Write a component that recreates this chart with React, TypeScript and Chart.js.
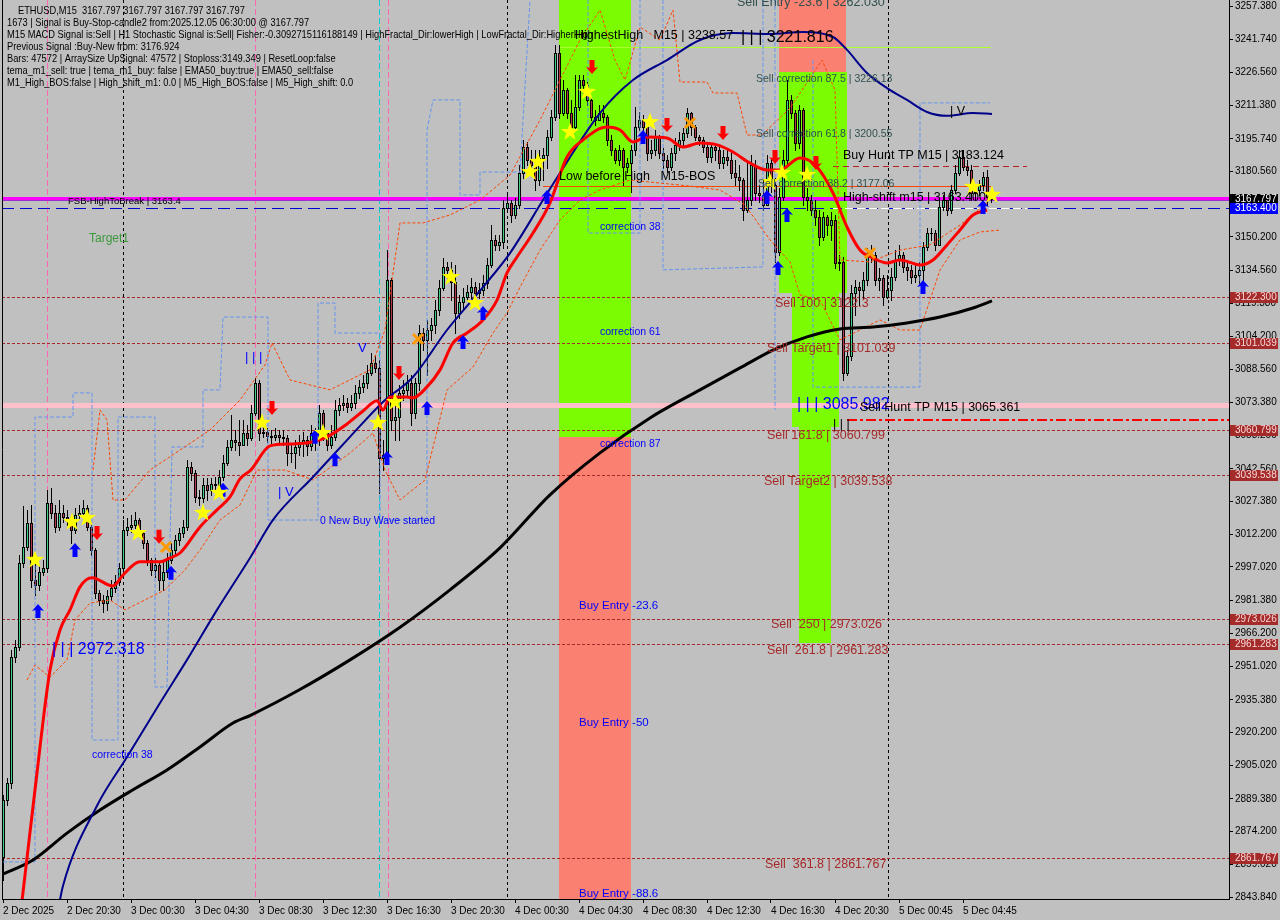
import React, { useEffect, useRef } from 'react';
import { Chart, registerables } from 'chart.js';
Chart.register(...registerables);

const W = 1280;
const H = 920;
const FONT = '"Liberation Sans", Arial, sans-serif';

// ---------- axis ticks ----------
const xTickIdx = [0, 16, 32, 48, 64, 80, 96, 112, 128, 144, 160, 176, 192, 208, 224, 240];
const xTickLabels = ['2 Dec 2025', '2 Dec 20:30', '3 Dec 00:30', '3 Dec 04:30', '3 Dec 08:30', '3 Dec 12:30', '3 Dec 16:30', '3 Dec 20:30', '4 Dec 00:30', '4 Dec 04:30', '4 Dec 08:30', '4 Dec 12:30', '4 Dec 16:30', '4 Dec 20:30', '5 Dec 00:45', '5 Dec 04:45'];
const yTicks = [3257.38, 3241.74, 3226.56, 3211.38, 3195.74, 3180.56, 3165.38, 3150.2, 3134.56, 3119.38, 3104.2, 3088.56, 3073.38, 3058.2, 3042.56, 3027.38, 3012.2, 2997.02, 2981.38, 2966.2, 2951.02, 2935.38, 2920.2, 2905.02, 2889.38, 2874.2, 2859.02, 2843.84];
const X_MIN = -0.25;
const X_MAX = 306.5;
const Y_MIN = 2842.912;
const Y_MAX = 3260.165;

// ---------- candles (M15), open = previous close ----------
const firstOpen = 2862.4;
const closes = [
  2888.9, 2896.8, 2955.3, 2959.9, 2998.9, 3006.4, 3017.4, 2991.0, 2988.7, 2994.8,
  2996.6, 3026.8, 3022.1, 3015.6, 3022.1, 3020.3, 3018.9, 3014.2, 3021.2, 3022.1,
  3024.4, 3015.6, 3004.9, 2985.0, 2981.7, 2980.3, 2983.6, 2987.3, 2990.1, 2996.6,
  3014.2, 3015.6, 3016.5, 3018.9, 3012.8, 3008.2, 3000.3, 2995.7, 2998.0, 2991.0,
  2994.8, 3000.3, 3004.9, 3009.6, 3012.8, 3015.6, 3043.4, 3040.7, 3029.5, 3029.1,
  3035.1, 3032.8, 3035.6, 3035.1, 3038.8, 3045.3, 3052.7, 3056.0, 3055.0, 3053.7,
  3059.2, 3056.9, 3068.5, 3082.4, 3059.2, 3059.7, 3057.8, 3057.4, 3058.3, 3057.4,
  3056.9, 3049.9, 3049.9, 3052.7, 3055.0, 3056.0, 3053.2, 3059.2, 3056.0, 3068.5,
  3059.2, 3053.7, 3057.4, 3069.9, 3072.2, 3073.1, 3071.3, 3073.1, 3077.8, 3080.6,
  3082.4, 3087.1, 3091.7, 3089.4, 3047.6, 3049.0, 3130.2, 3065.3, 3066.6, 3077.8,
  3079.2, 3082.4, 3068.5, 3082.4, 3105.6, 3102.4, 3107.0, 3109.3, 3116.3, 3126.5,
  3136.3, 3134.9, 3129.3, 3114.9, 3120.0, 3122.3, 3124.6, 3126.9, 3124.2, 3125.6,
  3128.8, 3137.2, 3148.8, 3146.5, 3147.9, 3163.6, 3166.0, 3160.4, 3165.0, 3179.9,
  3191.9, 3185.9, 3183.6, 3176.6, 3186.8, 3188.2, 3196.6, 3205.9, 3235.6, 3207.7,
  3218.4, 3207.7, 3201.2, 3210.5, 3223.0, 3220.7, 3213.8, 3205.9, 3204.5, 3207.7,
  3205.9, 3195.2, 3190.5, 3185.9, 3190.5, 3182.7, 3184.5, 3190.5, 3201.2, 3204.5,
  3201.2, 3189.2, 3190.5, 3196.6, 3189.2, 3185.9, 3182.7, 3189.2, 3192.9, 3195.2,
  3198.4, 3207.7, 3201.2, 3196.6, 3195.2, 3191.9, 3187.3, 3191.9, 3190.5, 3184.5,
  3187.3, 3185.9, 3179.9, 3178.0, 3176.6, 3162.7, 3167.3, 3183.6, 3170.6, 3169.7,
  3165.0, 3184.5, 3174.3, 3143.2, 3168.7, 3185.9, 3213.8, 3207.7, 3193.8, 3209.1,
  3168.7, 3167.3, 3162.7, 3159.4, 3150.2, 3159.4, 3155.7, 3158.1, 3138.1, 3138.6,
  3087.1, 3094.9, 3124.2, 3126.9, 3125.6, 3130.2, 3140.9, 3141.8, 3130.2, 3131.1,
  3122.3, 3125.6, 3131.6, 3139.5, 3141.8, 3136.3, 3134.9, 3131.6, 3132.5, 3134.9,
  3145.5, 3152.0, 3152.0, 3146.5, 3164.1, 3167.3, 3162.7, 3172.0, 3179.9, 3187.3,
  3182.7, 3181.3, 3170.6, 3172.0, 3174.3, 3178.0, 3168.7, 3167.797,
];
const highs = [
  2891.2, 2899.1, 2958.5, 2963.2, 3002.6, 3025.3, 3023.5, 3025.8, 3000.3, 2998.0,
  3000.3, 3032.8, 3033.7, 3025.8, 3028.1, 3025.8, 3023.5, 3021.2, 3024.4, 3025.8,
  3028.1, 3025.8, 3016.5, 3005.9, 2986.4, 2984.1, 2986.4, 2991.0, 2993.3, 2998.9,
  3018.9, 3019.8, 3021.2, 3022.6, 3019.8, 3014.2, 3009.6, 3001.2, 3001.2, 2999.4,
  3000.3, 3003.5, 3008.2, 3011.9, 3015.1, 3018.9, 3046.7, 3045.8, 3042.1, 3032.8,
  3038.4, 3038.4, 3038.4, 3038.8, 3042.1, 3049.0, 3056.0, 3067.6, 3060.6, 3065.3,
  3065.3, 3062.9, 3072.2, 3084.7, 3083.8, 3062.9, 3061.5, 3060.6, 3061.5, 3060.6,
  3060.6, 3058.3, 3053.7, 3056.0, 3058.3, 3059.7, 3057.8, 3062.9, 3061.5, 3072.2,
  3069.9, 3060.6, 3062.9, 3074.5, 3075.5, 3076.9, 3075.5, 3076.9, 3081.5, 3083.8,
  3086.1, 3090.8, 3096.3, 3095.4, 3093.1, 3056.0, 3144.1, 3131.1, 3074.5, 3081.5,
  3083.8, 3086.1, 3086.1, 3084.7, 3109.3, 3108.0, 3111.7, 3112.6, 3120.9, 3130.2,
  3140.4, 3138.6, 3138.6, 3137.2, 3123.3, 3126.5, 3127.9, 3131.1, 3129.3, 3128.8,
  3132.5, 3140.4, 3155.7, 3151.1, 3151.1, 3167.3, 3169.7, 3167.3, 3168.3, 3183.6,
  3195.2, 3194.3, 3190.5, 3190.5, 3190.5, 3191.5, 3199.8, 3209.1, 3239.3, 3239.3,
  3223.0, 3219.3, 3213.8, 3225.4, 3225.4, 3225.4, 3222.1, 3214.7, 3209.1, 3211.4,
  3211.4, 3206.8, 3197.5, 3191.5, 3192.9, 3191.5, 3186.8, 3192.9, 3210.5, 3208.2,
  3206.8, 3202.2, 3195.2, 3199.8, 3197.5, 3191.5, 3188.2, 3191.5, 3196.1, 3198.9,
  3200.8, 3210.0, 3208.2, 3202.2, 3197.5, 3196.6, 3193.8, 3193.8, 3193.8, 3191.9,
  3190.5, 3190.5, 3190.5, 3185.9, 3183.6, 3177.6, 3185.9, 3188.2, 3185.9, 3174.3,
  3176.6, 3188.2, 3186.8, 3177.6, 3172.9, 3190.5, 3223.0, 3216.1, 3209.1, 3211.4,
  3210.0, 3172.9, 3169.7, 3167.3, 3162.7, 3161.8, 3160.4, 3161.8, 3160.4, 3141.8,
  3140.9, 3097.7, 3127.9, 3130.2, 3129.3, 3133.9, 3145.1, 3146.5, 3143.2, 3135.8,
  3132.5, 3132.5, 3135.8, 3144.1, 3146.5, 3143.2, 3139.5, 3137.2, 3137.2, 3138.6,
  3147.9, 3154.3, 3154.3, 3153.4, 3167.3, 3169.7, 3167.3, 3174.3, 3183.6, 3190.5,
  3190.5, 3185.9, 3183.6, 3174.3, 3176.6, 3180.3, 3181.3, 3170.0,
];
const lows = [
  2851.8, 2886.6, 2894.5, 2953.0, 2958.5, 2997.1, 3004.9, 2987.8, 2984.1, 2986.4,
  2993.3, 2994.8, 3019.8, 3013.3, 3014.2, 3017.9, 3016.5, 3008.2, 3012.8, 3019.8,
  3021.2, 3014.2, 3002.6, 2982.7, 2979.4, 2976.2, 2977.1, 2981.7, 2985.5, 2988.7,
  2995.7, 3011.9, 3013.3, 3015.1, 3011.0, 3005.9, 2998.0, 2993.3, 2992.4, 2986.4,
  2986.4, 2992.4, 2998.9, 3002.6, 3007.3, 3011.0, 3014.2, 3037.4, 3027.2, 3025.8,
  3027.2, 3028.1, 3030.5, 3031.9, 3032.8, 3037.4, 3044.4, 3051.3, 3051.3, 3049.0,
  3054.6, 3053.7, 3056.0, 3067.6, 3056.0, 3057.4, 3055.0, 3054.6, 3056.0, 3055.0,
  3053.7, 3044.4, 3045.8, 3042.9, 3049.0, 3048.6, 3049.0, 3051.3, 3051.3, 3053.7,
  3056.0, 3051.3, 3052.3, 3056.0, 3067.6, 3069.9, 3069.0, 3069.9, 3070.8, 3075.5,
  3078.3, 3080.1, 3086.1, 3087.5, 3031.4, 3042.1, 3045.8, 3060.6, 3056.0, 3056.0,
  3074.5, 3076.9, 3062.9, 3066.2, 3079.2, 3097.7, 3086.1, 3102.4, 3105.6, 3114.0,
  3125.6, 3131.1, 3120.9, 3105.6, 3112.6, 3117.2, 3120.9, 3121.9, 3120.9, 3121.9,
  3123.3, 3126.5, 3136.3, 3144.1, 3144.1, 3145.1, 3161.8, 3157.1, 3159.0, 3163.6,
  3177.6, 3183.6, 3180.3, 3172.0, 3174.3, 3176.6, 3182.2, 3195.2, 3204.5, 3205.4,
  3206.8, 3205.4, 3198.9, 3200.8, 3209.1, 3215.2, 3211.4, 3204.5, 3202.2, 3205.4,
  3203.5, 3192.9, 3188.2, 3184.5, 3183.6, 3174.3, 3180.3, 3171.1, 3188.2, 3199.8,
  3198.4, 3185.9, 3186.8, 3188.2, 3186.8, 3182.2, 3180.3, 3181.3, 3185.9, 3190.5,
  3192.9, 3196.6, 3197.5, 3195.2, 3192.9, 3189.6, 3185.0, 3185.0, 3185.9, 3182.2,
  3182.2, 3183.6, 3177.6, 3174.3, 3172.0, 3158.1, 3161.8, 3165.0, 3167.3, 3166.4,
  3162.7, 3165.0, 3171.1, 3138.6, 3141.8, 3167.3, 3183.6, 3205.4, 3190.5, 3191.5,
  3165.0, 3162.7, 3160.4, 3155.7, 3146.5, 3148.8, 3151.1, 3148.8, 3135.8, 3134.9,
  3083.8, 3086.1, 3093.1, 3114.0, 3118.6, 3121.9, 3127.9, 3138.6, 3127.9, 3125.6,
  3118.6, 3121.9, 3120.9, 3130.2, 3137.2, 3133.9, 3130.2, 3128.8, 3129.3, 3127.9,
  3130.2, 3144.1, 3148.8, 3144.1, 3146.5, 3162.7, 3160.4, 3161.3, 3170.6, 3178.9,
  3181.3, 3178.9, 3167.3, 3167.3, 3169.7, 3172.0, 3165.0, 3166.4,
];

// ---------- moving averages (bar index / price) ----------
const redMaIdx = [4.5, 8, 11.75, 14.25, 16.75, 19.25, 22.25, 27.5, 30, 34.25, 39.25, 41.75, 44.25, 49.25, 53.5, 56.75, 59.25, 62, 66.75, 71.75, 77.25, 81, 86, 90, 93.5, 95, 96.75, 101, 102.5, 106, 109.25, 112.5, 116, 120, 123.5, 126, 128.5, 132.5, 136.75, 141, 145, 151, 154.25, 157.5, 161, 166, 170, 174.25, 178.5, 182.5, 186.75, 191, 194.25, 199.25, 203.5, 207.5, 211, 214.25, 217.5, 221, 224.25, 229.25, 232.5, 236, 239.25, 242.5, 246];
const redMaVal = [2838, 2893.6, 2949.2, 2967.8, 2977.1, 2987.8, 2992.0, 2988.2, 2993.3, 2999.4, 2999.4, 3001.2, 3003.5, 3015.6, 3023.5, 3029.5, 3037.9, 3042.1, 3053.2, 3054.1, 3055.0, 3057.4, 3063.4, 3069.4, 3074.2, 3069.9, 3075.9, 3075.9, 3075.5, 3080.6, 3088.5, 3101.0, 3105.6, 3111.7, 3120.9, 3133.5, 3140.9, 3152.0, 3166.0, 3187.3, 3195.2, 3201.2, 3199.8, 3194.3, 3196.6, 3196.1, 3191.9, 3193.8, 3192.9, 3189.6, 3184.5, 3181.3, 3181.3, 3186.8, 3182.7, 3170.6, 3154.8, 3144.1, 3140.4, 3138.1, 3139.5, 3137.2, 3139.5, 3146.5, 3153.4, 3160.4, 3162.7];
const navyMaIdx = [14, 15, 23.5, 31, 39.25, 46, 53.5, 61.75, 67.5, 77.5, 86.75, 95, 102.5, 111, 120, 126.75, 135, 139.25, 149.25, 157.5, 166, 174.25, 182.5, 191.5, 200, 207.5, 211, 216, 221, 226, 231, 236, 242.5, 247.25];
const navyMaVal = [2840.2, 2849.1, 2886.2, 2908.8, 2933.9, 2953.9, 2977.1, 3001.2, 3018.9, 3038.8, 3057.4, 3073.6, 3085.2, 3107.0, 3126.9, 3142.7, 3167.3, 3179.9, 3207.7, 3223.0, 3232.3, 3241.6, 3244.8, 3244.4, 3245.3, 3243.0, 3237.0, 3226.3, 3219.3, 3213.8, 3208.2, 3206.4, 3207.7, 3207.3];
const blackMaIdx = [-0.5, 7.5, 16, 24.25, 32.5, 41, 49.25, 57.5, 62, 74, 86.75, 99, 111.75, 124.25, 136.75, 149.25, 161.75, 174.25, 184.25, 192.5, 201, 209.25, 217.5, 226, 234.25, 242.5, 247.25];
const blackMaVal = [2854.1, 2861.0, 2873.5, 2884.2, 2893.6, 2902.8, 2913.5, 2924.6, 2928.3, 2939.9, 2953.9, 2968.7, 2986.4, 3005.9, 3030.5, 3050.0, 3066.2, 3079.2, 3089.4, 3097.7, 3103.8, 3107.5, 3108.4, 3110.3, 3113.0, 3117.2, 3120.5];

// ---------- band indicators (dashed) ----------
const orangeLowIdx = [6, 8, 11.75, 16, 18, 21.75, 26.75, 30.5, 35.5, 40.5, 45.5, 49.25, 54.25, 59.25, 63.5, 70.5, 77.5, 86.75, 92.5, 95.5, 99.25, 105.5, 111, 117.5, 122.5, 126, 129.25, 134.25, 139.25, 144.25, 149.25, 156.75, 164.25, 171.75, 179.25, 185.5, 191.75, 196.75, 199.25, 204.25, 209.25, 214.25, 219.25, 224.25, 229.25, 234.25, 239.25, 244.25, 249.25];
const orangeLowVal = [2944.6, 2951.5, 2945.9, 2953.9, 2972.4, 2980.3, 2981.7, 2977.1, 2981.7, 2986.4, 2995.7, 3004.9, 3018.8, 3025.8, 3042.0, 3042.0, 3037.4, 3049.9, 3059.2, 3042.0, 3028.1, 3037.4, 3079.2, 3089.8, 3105.6, 3114.9, 3126.9, 3144.1, 3158.1, 3167.3, 3172.0, 3176.6, 3175.2, 3173.8, 3172.0, 3165.0, 3148.8, 3138.6, 3123.3, 3120.9, 3102.4, 3107.0, 3111.7, 3107.0, 3107.0, 3134.9, 3148.8, 3152.5, 3153.4];
const orangeHighIdx = [22.5, 24.25, 26, 27.5, 30.5, 36.75, 44.25, 51.75, 59.25, 65.5, 67.25, 71.75, 81.75, 91.75, 95.5, 99.25, 105, 111.75, 119.25, 126.75, 134.25, 139.25, 144.25, 149.25, 153, 155.5, 159.25, 164.25, 167.5, 169.25, 176, 177.5, 183.5, 186, 189.75, 196.75, 204.75, 208, 209.25, 216.75, 224.25, 231.75, 239.25, 246.75];
const orangeHighVal = [3042.0, 3069.9, 3065.3, 3028.1, 3028.1, 3042.0, 3051.3, 3060.6, 3074.5, 3090.8, 3101.0, 3083.8, 3079.2, 3088.5, 3107.0, 3156.7, 3156.7, 3160.4, 3167.3, 3178.9, 3204.5, 3223.0, 3241.6, 3255.5, 3232.3, 3223.0, 3247.6, 3241.6, 3255.5, 3222.1, 3222.1, 3217.0, 3217.0, 3197.5, 3197.5, 3210.0, 3232.3, 3218.4, 3139.5, 3138.6, 3144.1, 3146.5, 3155.7, 3167.3];
const chanAIdx = [0, 8, 8, 17.5, 17.5, 22.25, 22.25, 28.75, 28.75, 38, 38, 41, 42.25, 50, 50, 54.25, 55, 66.25, 66.25, 78.75, 78.75, 83, 83, 94.25, 94.25, 106, 106, 107.5, 114.25, 114.25, 119.25, 119.25, 129.25, 131.75];
const chanAVal = [2860.1, 2860.1, 3066.6, 3066.6, 3077.8, 3077.8, 2916.7, 2916.7, 3066.6, 3066.6, 2941.3, 2941.3, 3052.7, 3052.7, 3079.2, 3079.2, 3113.0, 3113.0, 3018.8, 3018.8, 3119.5, 3119.5, 3105.6, 3105.6, 3018.8, 3018.8, 3199.8, 3213.8, 3213.8, 3169.7, 3169.7, 3180.3, 3180.3, 3260.2];
const chanBIdx = [146.25, 146.25, 159.25, 159.25];
const chanBVal = [3260.2, 3152.0, 3152.0, 3260.2];
const chanCIdx = [165, 165, 190, 190];
const chanCVal = [3260.2, 3134.9, 3136.3, 3260.2];
const chanDIdx = [193, 193];
const chanDVal = [3260.2, 3069.9];
const chanEIdx = [202.5, 202.5, 229.25, 229.25, 246.75];
const chanEVal = [3232.3, 3080.5, 3080.5, 3212.4, 3212.4];

// ---------- signals ----------
const upArrowIdx = [8.75, 18, 42, 55, 78, 83, 96, 106, 115, 120, 136, 160, 191, 196, 193.75, 230, 245];
const upArrowVal = [2976.6, 3004.9, 2994.3, 3032.8, 3057.4, 3047.0, 3047.6, 3070.8, 3101.4, 3114.9, 3168.7, 3196.6, 3168.7, 3160.4, 3135.8, 3127.0, 3164.1];
const downArrowIdx = [23.5, 39, 67.25, 99, 147.25, 166, 180, 193, 203.25];
const downArrowVal = [3012.8, 3011.0, 3070.8, 3087.0, 3229.1, 3202.2, 3198.4, 3187.3, 3184.5];
const starIdx = [8, 17.25, 21, 33.75, 50, 54, 64.75, 80, 93.75, 98, 112, 118, 131.75, 133.75, 141.75, 146, 161.75, 191.75, 194.75, 201, 242.5, 247.25];
const starVal = [3000.3, 3017.9, 3019.8, 3012.8, 3022.1, 3031.4, 3063.9, 3059.2, 3063.9, 3073.6, 3131.6, 3119.5, 3180.3, 3185.0, 3198.9, 3217.5, 3203.5, 3175.7, 3179.9, 3179.0, 3173.4, 3169.7];
const crossIdx = [40.75, 103.75, 171.75, 216.75];
const crossVal = [3006.3, 3102.8, 3203.1, 3142.7];

// ---------- levels / objects ----------
const targetLevels = [3122.3, 3101.039, 3060.799, 3039.538, 2973.026, 2961.283, 2861.767];
const bidPrice = 3167.797;
const highToBreak = 3163.4;
const magentaLevel = 3168.4;
const pinkLevel = 3072.0;
const highestHigh = 3238.57;
const bosLevel = 3173.8;
const buyHuntTp = 3183.124;
const sellHuntTp = 3065.361;
const daySepIdx = [30, 126, 221.25];
const pinkSepIdx = [11, 63, 96.25];
const cyanSepIdx = [94];
const zoneX0 = [139, 139, 194, 194, 197.25, 199];
const zoneX1 = [157, 157, 210.75, 211, 209, 207];
const zoneTop = [3260.2, 3057.3, 3260.2, 3226.7, 3124.2, 3062.0];
const zoneBottom = [3057.3, 2842.9, 3226.7, 3124.2, 3062.0, 2961.7];
const zoneKind = ['buy', 'sell', 'sell', 'buy', 'buy', 'buy'];

const infoLines = [
  'ETHUSD,M15  3167.797 3167.797 3167.797 3167.797',
  '1673 | Signal is Buy-Stop-candle2 from:2025.12.05 06:30:00 @ 3167.797',
  'M15 MACD Signal is:Sell | H1 Stochastic Signal is:Sell| Fisher:-0.3092715116188149 | HighFractal_Dir:lowerHigh | LowFractal_Dir:HigherHigh',
  'Previous Signal :Buy-New from: 3176.924',
  'Bars: 47572 | ArraySize UpSignal: 47572 | Stoploss:3149.349 | ResetLoop:false',
  'tema_m1_sell: true | tema_m1_buy: false | EMA50_buy:true | EMA50_sell:false',
  'M1_High_BOS:false | High_shift_m1: 0.0 | M5_High_BOS:false | M5_High_shift: 0.0',
];

const chartLabels = [
  { i: 16.25, p: 3166.9, t: 'FSB-HighToBreak | 3163.4', s: 'small' },
  { i: 21.5, p: 3149.2, t: 'Target1', s: 'green' },
  { i: 60.5, p: 3094.5, t: '| | |', s: 'blue' },
  { i: 88.75, p: 3098.6, t: 'V', s: 'blue' },
  { i: 68.75, p: 3031.8, t: '| V', s: 'blue' },
  { i: 79.25, p: 3018.4, t: '0 New Buy Wave started', s: 'blueSmall' },
  { i: 12.25, p: 2958.5, t: '| | | 2972.318', s: 'blueBig' },
  { i: 22.25, p: 2909.7, t: 'correction 38', s: 'blueSmall' },
  { i: 149.25, p: 3154.8, t: 'correction 38', s: 'blueSmall' },
  { i: 149.25, p: 3106.1, t: 'correction 61', s: 'blueSmall' },
  { i: 149.25, p: 3054.1, t: 'correction 87', s: 'blueSmall' },
  { i: 144, p: 2978.9, t: 'Buy Entry -23.6', s: 'blueMid' },
  { i: 144, p: 2924.6, t: 'Buy Entry -50', s: 'blueMid' },
  { i: 144, p: 2845.2, t: 'Buy Entry -88.6', s: 'blueMid' },
  { i: 143, p: 3243.5, t: 'HighestHigh   M15 | 3238.57', s: 'black' },
  { i: 184.5, p: 3242.5, t: '| | | 3221.816', s: 'blackBig' },
  { i: 139, p: 3178.0, t: 'Low before High   M15-BOS', s: 'black' },
  { i: 183.5, p: 3259.2, t: 'Sell Entry -23.6 | 3262.030', s: 'slateBig' },
  { i: 188.25, p: 3223.5, t: 'Sell correction 87.5 | 3226.13', s: 'slate' },
  { i: 188.25, p: 3198.0, t: 'Sell correction 61.8 | 3200.55', s: 'slate' },
  { i: 188.75, p: 3174.8, t: 'Sell correction 38.2 | 3177.06', s: 'slate' },
  { i: 210, p: 3188.2, t: 'Buy Hunt TP M15 | 3183.124', s: 'black' },
  { i: 210, p: 3168.3, t: 'High-shift m15 | 3163.400', s: 'black' },
  { i: 198.5, p: 3072.2, t: '| | | 3085.982', s: 'blueBig' },
  { i: 214.25, p: 3070.8, t: 'Sell Hunt TP M15 | 3065.361', s: 'black' },
  { i: 207.5, p: 3062.9, t: '| | |', s: 'black' },
  { i: 193, p: 3119.5, t: 'Sell 100 | 3122.3', s: 'brown' },
  { i: 191, p: 3098.2, t: 'Sell Target1 | 3101.039', s: 'brown' },
  { i: 191, p: 3057.8, t: 'Sell 161.8 | 3060.799', s: 'brown' },
  { i: 190.25, p: 3036.5, t: 'Sell Target2 | 3039.538', s: 'brown' },
  { i: 192, p: 2970.1, t: 'Sell  250 | 2973.026', s: 'brown' },
  { i: 191, p: 2958.0, t: 'Sell  261.8 | 2961.283', s: 'brown' },
  { i: 190.5, p: 2858.7, t: 'Sell  361.8 | 2861.767', s: 'brown' },
  { i: 236.75, p: 3208.2, t: '| V', s: 'black' },
];

const labelStyles: Record<string, { size: number; color: string }> = {
  small: { size: 9.5, color: '#000000' },
  green: { size: 12, color: '#3A983A' },
  blue: { size: 13, color: '#0000FF' },
  blueSmall: { size: 10.5, color: '#0000FF' },
  blueMid: { size: 11.5, color: '#0000FF' },
  blueBig: { size: 16, color: '#0000FF' },
  black: { size: 12.5, color: '#000000' },
  blackBig: { size: 16, color: '#000000' },
  slate: { size: 10.5, color: '#2F4F4F' },
  slateBig: { size: 12.5, color: '#2F4F4F' },
  brown: { size: 12.5, color: '#A52A2A' },
};

const pts = (idx: number[], val: number[]) => idx.map((x, k) => ({ x, y: val[k] }));

function drawArrow(ctx: CanvasRenderingContext2D, cx: number, cy: number, up: boolean, color: string) {
  const s = up ? 1 : -1;
  const tip = cy - s * 7;
  ctx.beginPath();
  ctx.moveTo(cx, tip);
  ctx.lineTo(cx + 6, tip + s * 7);
  ctx.lineTo(cx + 2.5, tip + s * 6);
  ctx.lineTo(cx + 2.5, tip + s * 14);
  ctx.lineTo(cx - 2.5, tip + s * 14);
  ctx.lineTo(cx - 2.5, tip + s * 6);
  ctx.lineTo(cx - 6, tip + s * 7);
  ctx.closePath();
  ctx.fillStyle = color;
  ctx.fill();
}

function drawStar(ctx: CanvasRenderingContext2D, cx: number, cy: number) {
  ctx.beginPath();
  for (let k = 0; k < 10; k++) {
    const a = -Math.PI / 2 + (k * Math.PI) / 5;
    const r = k % 2 === 0 ? 9.5 : 3.8;
    const px = cx + r * Math.cos(a);
    const py = cy + r * Math.sin(a);
    if (k === 0) ctx.moveTo(px, py);
    else ctx.lineTo(px, py);
  }
  ctx.closePath();
  ctx.fillStyle = '#FFFF00';
  ctx.fill();
}

const mt4Plugin = {
  id: 'mt4',
  beforeDraw(chart: any) {
    const ctx = chart.ctx as CanvasRenderingContext2D;
    ctx.save();
    ctx.fillStyle = '#C0C0C0';
    ctx.fillRect(0, 0, W, H);
    ctx.restore();
  },
  beforeDatasetsDraw(chart: any) {
    const ctx = chart.ctx as CanvasRenderingContext2D;
    const a = chart.chartArea;
    const xs = chart.scales.x;
    const ys = chart.scales.y;
    const X = (v: number) => xs.getPixelForValue(v);
    const Y = (v: number) => ys.getPixelForValue(v);
    ctx.save();
    ctx.beginPath();
    ctx.rect(a.left, a.top, a.right - a.left, a.bottom - a.top);
    ctx.clip();

    zoneX0.forEach((x0, k) => {
      ctx.fillStyle = zoneKind[k] === 'buy' ? '#7CFC00' : '#FA8072';
      const l = Math.round(X(x0));
      const r = Math.round(X(zoneX1[k]));
      const t = Math.round(Y(zoneTop[k]));
      const b = Math.round(Y(zoneBottom[k]));
      ctx.fillRect(l, t, r - l, b - t);
    });

    const vline = (idx: number, color: string, dash: number[]) => {
      const px = Math.round(X(idx)) + 0.5;
      ctx.strokeStyle = color;
      ctx.lineWidth = 1;
      ctx.setLineDash(dash);
      ctx.beginPath();
      ctx.moveTo(px, a.top);
      ctx.lineTo(px, a.bottom);
      ctx.stroke();
    };
    pinkSepIdx.forEach((v) => vline(v, '#FF69B4', [6, 3]));
    cyanSepIdx.forEach((v) => vline(v, '#00CED1', [6, 3]));
    daySepIdx.forEach((v) => vline(v, '#000000', [3, 3]));

    const hline = (p: number, color: string, w: number, dash: number[], x0?: number, x1?: number) => {
      const py = Math.round(Y(p)) + (w % 2 === 1 ? 0.5 : 0);
      ctx.strokeStyle = color;
      ctx.lineWidth = w;
      ctx.setLineDash(dash);
      ctx.beginPath();
      ctx.moveTo(x0 === undefined ? a.left : X(x0), py);
      ctx.lineTo(x1 === undefined ? a.right : X(x1), py);
      ctx.stroke();
    };
    targetLevels.forEach((p) => hline(p, '#A52A2A', 1, [3, 2]));
    hline(pinkLevel, '#FFC0CB', 5, []);
    hline(highestHigh, '#ADFF2F', 1, [], 139, 247);
    hline(bosLevel, '#FF4500', 1, [], 135, 247);
    hline(buyHuntTp, '#B22222', 1, [6, 4], 207.5, 256);
    hline(sellHuntTp, '#FF0000', 2, [10, 3, 3, 3], 211);
    hline(highToBreak, '#0000CD', 1, [12, 6]);
    hline(highToBreak, '#FFFFFF', 1, [8, 4], 207.5, 256);
    hline(magentaLevel, '#FF00FF', 3, []);
    hline(bidPrice - 0.6, '#9932CC', 1, []);
    ctx.setLineDash([]);

    for (let i = 0; i < closes.length; i++) {
      const o = i === 0 ? firstOpen : closes[i - 1];
      const c = closes[i];
      const hi = Math.max(highs[i], o, c);
      const lo = Math.min(lows[i], o, c);
      const px = Math.round(X(i));
      const yH = Math.round(Y(hi));
      const yL = Math.round(Y(lo));
      const yO = Math.round(Y(o));
      const yC = Math.round(Y(c));
      ctx.fillStyle = '#000000';
      ctx.fillRect(px, yH, 1, yL - yH + 1);
      const top = Math.min(yO, yC);
      const bot = Math.max(yO, yC);
      ctx.fillRect(px - 1, top, 3, bot - top + 1);
      if (bot - top >= 2) {
        ctx.fillStyle = c >= o ? '#3ED083' : '#B23A48';
        ctx.fillRect(px, top + 1, 1, bot - top - 1);
      }
    }
    ctx.restore();
  },
  afterDatasetsDraw(chart: any) {
    const ctx = chart.ctx as CanvasRenderingContext2D;
    const a = chart.chartArea;
    const xs = chart.scales.x;
    const ys = chart.scales.y;
    const X = (v: number) => xs.getPixelForValue(v);
    const Y = (v: number) => ys.getPixelForValue(v);
    ctx.save();
    ctx.beginPath();
    ctx.rect(a.left, a.top, a.right - a.left, a.bottom - a.top);
    ctx.clip();

    upArrowIdx.forEach((v, k) => drawArrow(ctx, X(v), Y(upArrowVal[k]), true, '#0000FF'));
    downArrowIdx.forEach((v, k) => drawArrow(ctx, X(v), Y(downArrowVal[k]), false, '#FF0000'));
    starIdx.forEach((v, k) => drawStar(ctx, X(v), Y(starVal[k])));
    ctx.strokeStyle = '#FF9900';
    ctx.lineWidth = 3;
    crossIdx.forEach((v, k) => {
      const cx = X(v);
      const cy = Y(crossVal[k]);
      ctx.beginPath();
      ctx.moveTo(cx - 5, cy - 5);
      ctx.lineTo(cx + 5, cy + 5);
      ctx.moveTo(cx + 5, cy - 5);
      ctx.lineTo(cx - 5, cy + 5);
      ctx.stroke();
    });

    ctx.textAlign = 'left';
    ctx.textBaseline = 'middle';
    chartLabels.forEach((lb) => {
      const st = labelStyles[lb.s];
      ctx.font = `${st.size}px ${FONT}`;
      ctx.fillStyle = st.color;
      ctx.fillText(lb.t, X(lb.i), Y(lb.p));
    });

    ctx.font = `10.5px ${FONT}`;
    ctx.fillStyle = '#000000';
    infoLines.forEach((t, k) => {
      ctx.save();
      ctx.translate(k === 0 ? 18 : 7, 11 + k * 12.1);
      ctx.scale(0.885, 1);
      ctx.fillText(t, 0, 0);
      ctx.restore();
    });
    ctx.restore();
  },
  afterDraw(chart: any) {
    const ctx = chart.ctx as CanvasRenderingContext2D;
    const a = chart.chartArea;
    const ys = chart.scales.y;
    ctx.save();
    ctx.strokeStyle = '#000000';
    ctx.lineWidth = 1;
    ctx.beginPath();
    ctx.moveTo(a.left + 0.5, a.top);
    ctx.lineTo(a.left + 0.5, a.bottom);
    ctx.stroke();
    ctx.font = `10px ${FONT}`;
    ctx.textBaseline = 'middle';
    ctx.textAlign = 'left';
    const box = (p: number, bg: string, fg: string) => {
      const py = Math.round(ys.getPixelForValue(p));
      ctx.fillStyle = bg;
      ctx.fillRect(a.right + 1, py - 5, 48, 11);
      ctx.fillStyle = fg;
      ctx.fillText(p.toFixed(3), a.right + 6, py + 0.5);
    };
    targetLevels.forEach((p) => box(p, '#A52A2A', '#F6D8D8'));
    box(bidPrice, '#000000', '#FFFFFF');
    box(highToBreak, '#0000FF', '#FFFFFF');
    ctx.restore();
  },
};

export default function App() {
  const ref = useRef<HTMLCanvasElement>(null);
  useEffect(() => {
    document.body.style.margin = '0';
    const canvas = ref.current;
    if (!canvas) return;
    const lineBase = { pointRadius: 0, fill: false, spanGaps: true };
    const chart = new Chart(canvas, {
      type: 'line',
      data: {
        datasets: [
          { ...lineBase, label: 'EMA red', data: pts(redMaIdx, redMaVal), borderColor: '#FF0000', borderWidth: 3, cubicInterpolationMode: 'monotone', order: 1 },
          { ...lineBase, label: 'MA navy', data: pts(navyMaIdx, navyMaVal), borderColor: '#00008B', borderWidth: 2, cubicInterpolationMode: 'monotone', order: 2 },
          { ...lineBase, label: 'MA black', data: pts(blackMaIdx, blackMaVal), borderColor: '#000000', borderWidth: 3, cubicInterpolationMode: 'monotone', order: 3 },
          { ...lineBase, label: 'band low', data: pts(orangeLowIdx, orangeLowVal), borderColor: '#FF4500', borderWidth: 1, borderDash: [3, 2], tension: 0, order: 4 },
          { ...lineBase, label: 'band high', data: pts(orangeHighIdx, orangeHighVal), borderColor: '#FF4500', borderWidth: 1, borderDash: [3, 2], tension: 0, order: 4 },
          { ...lineBase, label: 'chan A', data: pts(chanAIdx, chanAVal), borderColor: '#6495ED', borderWidth: 1, borderDash: [4, 2], tension: 0, order: 5 },
          { ...lineBase, label: 'chan B', data: pts(chanBIdx, chanBVal), borderColor: '#6495ED', borderWidth: 1, borderDash: [4, 2], tension: 0, order: 5 },
          { ...lineBase, label: 'chan C', data: pts(chanCIdx, chanCVal), borderColor: '#6495ED', borderWidth: 1, borderDash: [4, 2], tension: 0, order: 5 },
          { ...lineBase, label: 'chan D', data: pts(chanDIdx, chanDVal), borderColor: '#6495ED', borderWidth: 1, borderDash: [4, 2], tension: 0, order: 5 },
          { ...lineBase, label: 'chan E', data: pts(chanEIdx, chanEVal), borderColor: '#6495ED', borderWidth: 1, borderDash: [4, 2], tension: 0, order: 5 },
        ],
      },
      options: {
        responsive: false,
        animation: false,
        devicePixelRatio: 1,
        events: [],
        layout: { padding: { left: 2, right: 0, top: 0, bottom: 0 } },
        plugins: { legend: { display: false }, tooltip: { enabled: false } },
        scales: {
          x: {
            type: 'linear',
            position: 'bottom',
            min: X_MIN,
            max: X_MAX,
            afterBuildTicks: (s: any) => {
              s.ticks = xTickIdx.map((v) => ({ value: v }));
            },
            afterFit: (s: any) => {
              s.height = 21;
              s.paddingLeft = 0;
              s.paddingRight = 0;
            },
            ticks: {
              autoSkip: false,
              maxRotation: 0,
              minRotation: 0,
              align: 'start',
              padding: 2,
              color: '#000000',
              font: { family: FONT, size: 10 },
              callback: (v: any) => {
                const k = xTickIdx.indexOf(Number(v));
                return k >= 0 ? xTickLabels[k] : '';
              },
            },
            grid: { drawOnChartArea: false, drawTicks: true, tickLength: 4, color: '#000000' },
            border: { display: true, color: '#000000', width: 1 },
          },
          y: {
            type: 'linear',
            position: 'right',
            min: Y_MIN,
            max: Y_MAX,
            afterBuildTicks: (s: any) => {
              s.ticks = yTicks.map((v) => ({ value: v }));
            },
            afterFit: (s: any) => {
              s.width = 51;
              s.paddingTop = 0;
              s.paddingBottom = 0;
            },
            ticks: {
              autoSkip: false,
              padding: 2,
              color: '#000000',
              font: { family: FONT, size: 10 },
              callback: (v: any) => Number(v).toFixed(3),
            },
            grid: { drawOnChartArea: false, drawTicks: true, tickLength: 4, color: '#000000' },
            border: { display: true, color: '#000000', width: 1 },
          },
        },
      },
      plugins: [mt4Plugin],
    } as any);
    return () => chart.destroy();
  }, []);
  return (
    <div style={{ position: 'relative', width: W, height: H, background: '#C0C0C0' }}>
      <canvas ref={ref} width={W} height={H} style={{ display: 'block', width: W, height: H }} />
    </div>
  );
}
